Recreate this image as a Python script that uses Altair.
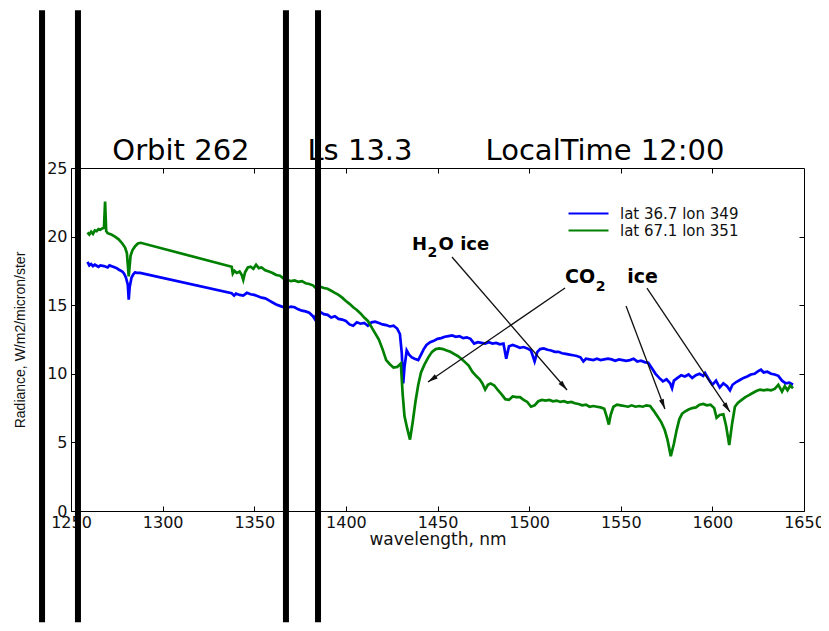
import math
import altair as alt
import pandas as pd

# ---------------- data ----------------
blue_wl = [1259, 1260, 1261, 1262, 1263, 1265, 1266, 1268, 1270, 1271, 1273, 1275, 1276, 1278, 1279, 1280,
           1281, 1281.5, 1282, 1283, 1284, 1285, 1286, 1287.7,
           1337.7, 1339, 1340, 1342, 1344, 1346, 1348, 1350, 1352, 1354, 1356, 1358, 1360, 1362, 1364, 1366,
           1368, 1370, 1372, 1374, 1376, 1378, 1380, 1382, 1383, 1384, 1386, 1388, 1390, 1392, 1394, 1396,
           1398, 1400, 1402, 1404, 1406, 1408, 1410, 1412, 1414, 1416, 1418, 1420, 1422, 1424, 1426, 1428,
           1429.5, 1430.5, 1431.3, 1432, 1433.2, 1434.5, 1436, 1437.5, 1439.5, 1441, 1442.5, 1444, 1446, 1448,
           1450, 1452, 1454, 1456, 1458, 1460, 1462, 1464, 1466, 1468, 1470, 1472, 1474, 1476, 1478, 1480,
           1482, 1484, 1486, 1487.5, 1489, 1491, 1493, 1495, 1497, 1499, 1501, 1503, 1504.5, 1506, 1508, 1510,
           1512, 1514, 1516, 1518, 1520, 1522, 1524, 1526, 1528, 1529.6, 1531, 1533, 1535, 1537, 1539, 1541,
           1543, 1545, 1547, 1549, 1551, 1553, 1555, 1557, 1559, 1561, 1563, 1565, 1567, 1569, 1571, 1573,
           1575, 1577, 1578, 1579, 1581, 1583, 1585, 1587, 1589, 1591, 1593, 1595, 1596, 1598, 1600, 1602,
           1604, 1606, 1608, 1609.6, 1611, 1613, 1615, 1617, 1619, 1621, 1623, 1625, 1626.5, 1628, 1630, 1632,
           1634, 1636, 1638, 1640, 1642, 1644]
blue_rad = [18.15, 17.9, 18.0, 17.85, 17.95, 17.8, 17.9, 17.85, 17.75, 17.9, 17.8, 17.7, 17.6, 17.45, 17.3, 17.0,
            16.5, 15.4, 16.3, 17.0, 17.25, 17.4, 17.35, 17.35,
            15.87, 15.7, 15.85, 15.75, 15.7, 15.9, 15.8, 15.75, 15.65, 15.55, 15.5, 15.35, 15.2, 15.05, 14.95, 14.85,
            14.8, 14.9, 14.85, 14.7, 14.6, 14.55, 14.45, 14.2, 14.0, 14.4, 14.5, 14.35, 14.3, 14.1, 14.2, 14.0,
            13.95, 13.85, 13.6, 13.5, 13.75, 13.65, 13.7, 13.5, 13.75, 13.8, 13.7, 13.6, 13.55, 13.45, 13.5, 13.3,
            12.9, 11.5, 9.3, 10.5, 11.7, 11.4, 11.2, 11.1, 11.0, 11.4, 11.8, 12.1, 12.3, 12.4,
            12.55, 12.6, 12.7, 12.75, 12.8, 12.7, 12.75, 12.6, 12.65, 12.55, 12.2, 12.3, 12.25, 12.2, 12.3, 12.2,
            12.25, 12.15, 12.2, 11.1, 12.0, 12.1, 12.0, 11.9, 11.95, 11.85, 11.7, 10.9, 11.6, 11.8, 11.85, 11.75,
            11.7, 11.6, 11.6, 11.5, 11.45, 11.4, 11.35, 11.3, 11.2, 10.9, 11.1, 11.05, 11.0, 11.1, 11.0, 11.05,
            11.1, 11.05, 10.95, 11.05, 11.0, 10.95, 11.0, 11.1, 10.9, 10.95, 10.85, 10.8, 10.4, 10.0, 9.7, 9.45,
            9.6, 9.3, 8.95, 9.5, 9.7, 9.9, 9.8, 9.95, 9.7, 9.9, 10.0, 9.85, 10.05, 9.6, 9.2, 9.5,
            9.0, 9.3, 9.1, 8.8, 9.2, 9.4, 9.55, 9.7, 9.8, 9.95, 10.0, 10.2, 10.3, 10.1, 10.15, 10.0,
            9.95, 9.85, 9.5, 9.3, 9.35, 9.2]

green_wl = [1259, 1260, 1261, 1262, 1263, 1264, 1265, 1266, 1267, 1268, 1268.6, 1269.2, 1270, 1272, 1274, 1276,
            1278, 1279.5, 1280.5, 1281.5, 1282.5, 1283.5, 1285, 1286.5, 1288,
            1337.7, 1338.3, 1339.2, 1340.5, 1342, 1343.2, 1344, 1345, 1346.5, 1348, 1349.5, 1351, 1352.5, 1354,
            1356, 1358, 1360, 1362, 1364, 1366, 1368, 1370, 1372, 1374, 1376, 1378, 1380, 1382, 1384, 1386,
            1388, 1390, 1392, 1394, 1396, 1398, 1400, 1402, 1404, 1406, 1408, 1410, 1412, 1414, 1416, 1418,
            1420, 1422, 1424, 1426, 1428, 1430, 1431, 1432, 1433.5, 1435, 1436.5, 1438, 1439.5, 1441, 1443, 1445,
            1447, 1449, 1451, 1453, 1455, 1457, 1459, 1461, 1463, 1465, 1467, 1469, 1471, 1473, 1474.5, 1476,
            1477.5, 1479, 1481, 1483, 1485, 1487, 1489, 1491, 1493, 1495, 1497, 1499, 1501, 1503, 1505, 1507,
            1509, 1511, 1513, 1515, 1517, 1519, 1521, 1523, 1525, 1527, 1529, 1531, 1533, 1535, 1537, 1539,
            1541, 1542.5, 1543.5, 1544.5, 1546, 1548, 1550, 1552, 1554, 1556, 1558, 1560, 1562, 1564, 1566, 1568,
            1570, 1572, 1574, 1575.5, 1577.3, 1579, 1580.5, 1582, 1583.5, 1585, 1587, 1589, 1591, 1593, 1595, 1597,
            1599, 1601, 1602.3, 1604, 1606, 1607.5, 1609.2, 1610.8, 1612.3, 1614, 1616, 1618, 1620, 1622, 1624, 1626,
            1628, 1630, 1632, 1634, 1636, 1638, 1639.5, 1641, 1642.5, 1644]
green_rad = [20.3, 20.15, 20.35, 20.2, 20.45, 20.4, 20.55, 20.5, 20.6, 20.65, 22.55, 20.4, 20.25, 20.15, 20.0, 19.8,
             19.5, 19.2, 18.8, 17.1, 18.6, 19.0, 19.3, 19.5, 19.55,
             17.8, 17.3, 17.5, 17.35, 17.45, 17.2, 16.85, 17.4, 17.75, 17.8, 17.65, 17.95, 17.7, 17.75,
             17.55, 17.45, 17.35, 17.2, 17.15, 16.95, 16.85, 16.75, 16.8, 16.7, 16.75, 16.6, 16.55, 16.45, 16.2, 16.35,
             16.25, 16.2, 16.05, 15.9, 15.75, 15.55, 15.3, 15.1, 14.85, 14.65, 14.4, 14.1, 13.85, 13.4, 12.95, 12.5,
             11.8, 11.0, 10.7, 10.45, 10.5, 10.75, 8.5, 6.9, 6.0, 5.2, 6.5, 8.0, 9.2, 10.1, 10.7, 11.2,
             11.6, 11.8, 11.85, 11.8, 11.7, 11.6, 11.45, 11.3, 11.1, 10.85, 10.6, 10.15, 9.85, 9.6, 9.3, 8.85,
             9.2, 9.3, 9.15, 8.8, 8.5, 8.15, 8.1, 8.35, 8.3, 8.3, 8.1, 7.95, 7.6, 7.7, 8.0, 8.1,
             8.05, 8.1, 8.0, 8.05, 7.95, 8.0, 7.9, 7.95, 7.85, 7.8, 7.7, 7.75, 7.6, 7.65, 7.6, 7.55,
             7.45, 6.8, 6.3, 7.0, 7.6, 7.75, 7.7, 7.65, 7.6, 7.7, 7.6, 7.65, 7.6, 7.7, 7.65, 7.3,
             6.9, 6.5, 5.9, 5.2, 4.0, 4.9, 5.9, 6.7, 7.1, 7.25, 7.4, 7.5, 7.55, 7.75, 7.8, 7.7,
             7.75, 7.5, 6.8, 7.0, 7.05, 6.2, 4.8, 6.4, 7.6, 7.9, 8.1, 8.3, 8.45, 8.6, 8.75, 8.85,
             8.8, 8.85, 8.8, 8.9, 9.2, 8.7, 9.1, 8.8, 9.15, 8.95]

series_names = ["lat 36.7 lon 349", "lat 67.1 lon 351"]
series_colors = ["#0000ff", "#008000"]

x_domain = [1250, 1650]
y_domain = [0, 25]
x_ticks = [1250, 1300, 1350, 1400, 1450, 1500, 1550, 1600, 1650]
y_ticks = [0, 5, 10, 15, 20, 25]

# title "Orbit 262   Ls 13.3   LocalTime 12:00", its three words placed apart as in the picture
title_words = ["Orbit 262", "Ls 13.3", "LocalTime 12:00"]
title_wl = [1310.0, 1407.7, 1541.4]
title_rad = [25.6, 25.6, 25.6]

stripe_wl = [1234.2, 1253.8, 1367.3, 1384.8]
stripe_top = [36.5, 36.5, 36.5, 36.5]
stripe_bottom = [-8.1, -8.1, -8.1, -8.1]

label_text = ["H", "2", "O ice", "CO", "2", "ice"]
label_wl = [1436.1, 1444.6, 1450.6, 1519.6, 1536.4, 1553.5]
label_rad = [19.02, 18.51, 19.02, 16.62, 16.03, 16.62]
label_size = [18, 14, 18, 19, 14, 19]

arrow_wl_start = [1457.9, 1519.6, 1552.9, 1564.3]
arrow_rad_start = [18.51, 16.25, 14.94, 16.25]
arrow_wl_end = [1520.7, 1444.8, 1574.1, 1609.6]
arrow_rad_end = [8.82, 9.40, 7.43, 7.22]

# ---------------- layout ----------------
W, H = 733, 343
PAD = {"left": 63, "top": 160, "right": 17, "bottom": 112}

lines_df = pd.concat([
    pd.DataFrame({"wavelength": blue_wl, "radiance": blue_rad, "series": series_names[0]}),
    pd.DataFrame({"wavelength": green_wl, "radiance": green_rad, "series": series_names[1]}),
])

title_df = pd.DataFrame({"wl": title_wl, "rad": title_rad, "t": title_words})
stripe_df = pd.DataFrame({"wl": stripe_wl, "top": stripe_top, "bottom": stripe_bottom})
label_df = pd.DataFrame({"wl": label_wl, "rad": label_rad, "t": label_text, "fs": label_size})

ppx = W / (x_domain[1] - x_domain[0])
ppy = H / (y_domain[1] - y_domain[0])
angles = []
for xs_, ys_, xe_, ye_ in zip(arrow_wl_start, arrow_rad_start, arrow_wl_end, arrow_rad_end):
    dxs = (xe_ - xs_) * ppx
    dys = -(ye_ - ys_) * ppy
    angles.append(math.degrees(math.atan2(dxs, -dys)) % 360)
arrow_df = pd.DataFrame({"x1": arrow_wl_start, "y1": arrow_rad_start,
                         "x2": arrow_wl_end, "y2": arrow_rad_end, "ang": angles})

xs = alt.Scale(domain=x_domain, nice=False, zero=False)
ys = alt.Scale(domain=y_domain, nice=False, zero=False)

FONT = "DejaVu Sans"

bottom_axis = alt.Axis(orient="bottom", offset=-5, domain=False, grid=False, tickSize=5, tickColor="black",
                       values=x_ticks, format="d", labelFont=FONT, labelFontSize=16, labelColor="#111",
                       labelPadding=3, labelFlush=False, title="wavelength, nm", titleFont=FONT,
                       titleFontSize=17, titleFontWeight="normal", titleColor="#111", titleY=38,
                       titleBaseline="alphabetic")
left_axis = alt.Axis(orient="left", offset=-5, domain=False, grid=False, tickSize=5, tickColor="black",
                     values=y_ticks, labelFont=FONT, labelFontSize=16, labelColor="#111", labelPadding=4,
                     title="Radiance, W/m2/micron/ster", titleFont="Liberation Sans", titleFontSize=14,
                     titleFontWeight="normal", titleColor="#111", titleAngle=270, titleX=-56, titleY=171.5,
                     titleAlign="center", titleBaseline="middle")
top_axis = alt.Axis(orient="top", offset=-5, domain=False, grid=False, labels=False, tickSize=5,
                    tickColor="black", values=x_ticks[1:-1], title=None)
right_axis = alt.Axis(orient="right", offset=-5, domain=False, grid=False, labels=False, tickSize=5,
                      tickColor="black", values=y_ticks[1:-1], title=None)

lines = alt.Chart(lines_df).mark_line(strokeWidth=2.7).encode(
    x=alt.X("wavelength:Q", scale=xs, axis=bottom_axis),
    y=alt.Y("radiance:Q", scale=ys, axis=left_axis),
    color=alt.Color("series:N", scale=alt.Scale(domain=series_names, range=series_colors),
                    legend=alt.Legend(orient="none", legendX=494, legendY=38, title=None,
                                      symbolType="M-1,0L9,0", symbolSize=64, symbolStrokeWidth=2,
                                      labelFont=FONT, labelFontSize=15, labelColor="#111",
                                      labelOffset=40, padding=0, rowPadding=1)),
)

shafts = alt.Chart(arrow_df).mark_rule(color="#111", strokeWidth=1.3).encode(
    x=alt.X("x1:Q", scale=xs, axis=None), y=alt.Y("y1:Q", scale=ys, axis=None),
    x2="x2:Q", y2="y2:Q",
)
heads = alt.Chart(arrow_df).mark_point(shape="M0,0L-0.6,2.4L0.6,2.4Z", filled=True, color="#111",
                                       size=70, opacity=1).encode(
    x=alt.X("x2:Q", scale=xs, axis=None), y=alt.Y("y2:Q", scale=ys, axis=None),
    angle=alt.Angle("ang:Q", scale=None),
)
labels = alt.Chart(label_df).mark_text(font=FONT, fontWeight="bold", align="left", baseline="alphabetic",
                                       color="black").encode(
    x=alt.X("wl:Q", scale=xs, axis=None), y=alt.Y("rad:Q", scale=ys, axis=None),
    text="t:N", size=alt.Size("fs:Q", scale=None, legend=None),
)
title = alt.Chart(title_df).mark_text(font=FONT, fontSize=29, align="center", baseline="alphabetic",
                                      color="black", clip=False).encode(
    x=alt.X("wl:Q", scale=xs, axis=None), y=alt.Y("rad:Q", scale=ys, axis=None), text="t:N",
)
stripes = alt.Chart(stripe_df).mark_rule(color="black", strokeWidth=6, clip=False).encode(
    x=alt.X("wl:Q", scale=xs, axis=top_axis),
    y=alt.Y("top:Q", scale=ys, axis=right_axis),
    y2="bottom:Q",
)

chart = alt.layer(lines, shafts, heads, labels, title, stripes).resolve_axis(
    x="independent", y="independent"
).properties(
    width=W, height=H, padding=PAD, background="white",
    autosize=alt.AutoSizeParams(type="none"),
).configure_view(stroke="black", strokeWidth=1)

chart.save("out.html", embed_options={"renderer": "svg", "actions": False})
